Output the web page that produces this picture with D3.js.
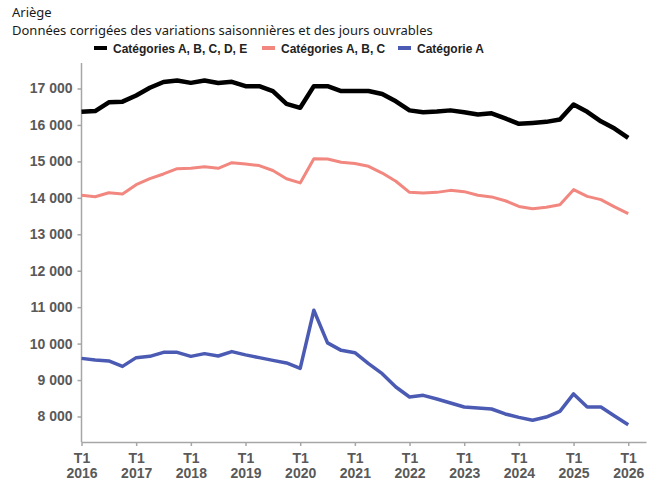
<!DOCTYPE html>
<html>
<head>
<meta charset="utf-8">
<script src="https://cdn.jsdelivr.net/npm/d3@7"></script>
<style>
  body { margin: 0; background: #fff; }
  .title { font-family: "Noto Sans", sans-serif; font-size: 13px; fill: #1a1a1a; }
  .legend text { font-family: "Liberation Sans", Arial, sans-serif; font-weight: bold; font-size: 12px; fill: #222; }
  .axis text { font-family: "Liberation Sans", Arial, sans-serif; font-weight: bold; fill: #595959; }
  .axis path, .axis line { stroke: #a6a6a6; stroke-width: 1.5; }
</style>
</head>
<body>
<div id="chart"></div>
<script>

// quarters T1 2016 ... T1 2026
var years = [2016, 2017, 2018, 2019, 2020, 2021, 2022, 2023, 2024, 2025, 2026];

var yTicks = [8000, 9000, 10000, 11000, 12000, 13000, 14000, 15000, 16000, 17000];

var seriesNames = ["Catégories A, B, C, D, E", "Catégories A, B, C", "Catégorie A"];
var seriesColors = ["#000000", "#f2877f", "#4b5bb3"];
var seriesWidths = [4.5, 3, 3.5];

var catABCDE = [16360, 16380, 16620, 16640, 16810, 17020, 17180, 17220, 17155, 17220,
                17150, 17185, 17065, 17065, 16930, 16580, 16470, 17065, 17065, 16930,
                16930, 16930, 16850, 16650, 16400, 16350, 16370, 16400, 16350, 16285,
                16320, 16180, 16030, 16055, 16085, 16150, 16560, 16360, 16100, 15900,
                15645];

var catABC = [14070, 14030, 14140, 14105, 14360, 14525, 14655, 14800, 14810, 14850,
              14810, 14965, 14930, 14885, 14750, 14525, 14410, 15075, 15065, 14975,
              14940, 14865, 14680, 14455, 14150, 14135, 14150, 14205, 14170, 14070,
              14025, 13920, 13765, 13700, 13740, 13810, 14225, 14040, 13950, 13750,
              13565];

var catA = [9595, 9550, 9525, 9375, 9615, 9650, 9760, 9760, 9650, 9725,
            9660, 9780, 9690, 9615, 9540, 9470, 9320, 10915, 10020, 9815,
            9750, 9450, 9175, 8810, 8535, 8580, 8480, 8370, 8260, 8235,
            8205, 8070, 7975, 7895, 7985, 8140, 8620, 8260, 8260, 8015,
            7775];

var allSeries = [catABCDE, catABC, catA];

var svg = d3.select("#chart").append("svg")
  .attr("width", 651)
  .attr("height", 480);

// Titles
svg.append("text").attr("class", "title")
  .attr("x", 12).attr("y", 17)
  .text("Ariège");
svg.append("text").attr("class", "title")
  .attr("x", 12).attr("y", 35)
  .text("Données corrigées des variations saisonnières et des jours ouvrables");

// Scales
var x = d3.scaleLinear()
  .domain([0, 41.3])
  .range([81.5, 646]);

var y = d3.scaleLinear()
  .domain([7300, 17700])
  .range([442, 63]);

// Axes
var fmt = function(d) { return d3.format(",")(d).replace(",", " "); };

var yAxis = d3.axisLeft(y)
  .tickValues(yTicks)
  .tickSize(4)
  .tickPadding(5)
  .tickFormat(fmt);

var xAxis = d3.axisBottom(x)
  .tickValues(years.map(function(d, i) { return i * 4; }))
  .tickSize(4)
  .tickSizeOuter(0)
  .tickFormat("");

var gy = svg.append("g")
  .attr("class", "axis y-axis")
  .attr("transform", "translate(" + x(0) + ",0)")
  .call(yAxis);
gy.selectAll("text").style("font-size", "14px");
gy.select(".domain").attr("d", "M0," + y.range()[1] + "V" + y.range()[0]);

var gx = svg.append("g")
  .attr("class", "axis x-axis")
  .attr("transform", "translate(0," + y.range()[0] + ")")
  .call(xAxis);

gx.selectAll(".tick").each(function(d, i) {
  var t = d3.select(this).append("text")
    .attr("text-anchor", "middle")
    .style("font-size", "14px");
  t.append("tspan").attr("x", 0).attr("y", 21).text("T1");
  t.append("tspan").attr("x", 0).attr("y", 36).text(years[i]);
});

// Lines
var line = d3.line()
  .x(function(d, i) { return x(i); })
  .y(function(d) { return y(d); });

svg.selectAll(".series")
  .data(allSeries)
  .enter().append("path")
  .attr("class", "series")
  .attr("fill", "none")
  .attr("stroke", function(d, i) { return seriesColors[i]; })
  .attr("stroke-width", function(d, i) { return seriesWidths[i]; })
  .attr("stroke-linejoin", "round")
  .attr("d", line);

// Legend
var legendX = [94, 262, 398];
var legend = svg.append("g").attr("class", "legend");
var item = legend.selectAll("g")
  .data(seriesNames)
  .enter().append("g")
  .attr("transform", function(d, i) { return "translate(" + legendX[i] + ",48)"; });
item.append("line")
  .attr("x1", 0).attr("x2", 13)
  .attr("stroke", function(d, i) { return seriesColors[i]; })
  .attr("stroke-width", 4);
item.append("text")
  .attr("x", 19).attr("y", 4.5)
  .text(function(d) { return d; });

</script>
</body>
</html>
